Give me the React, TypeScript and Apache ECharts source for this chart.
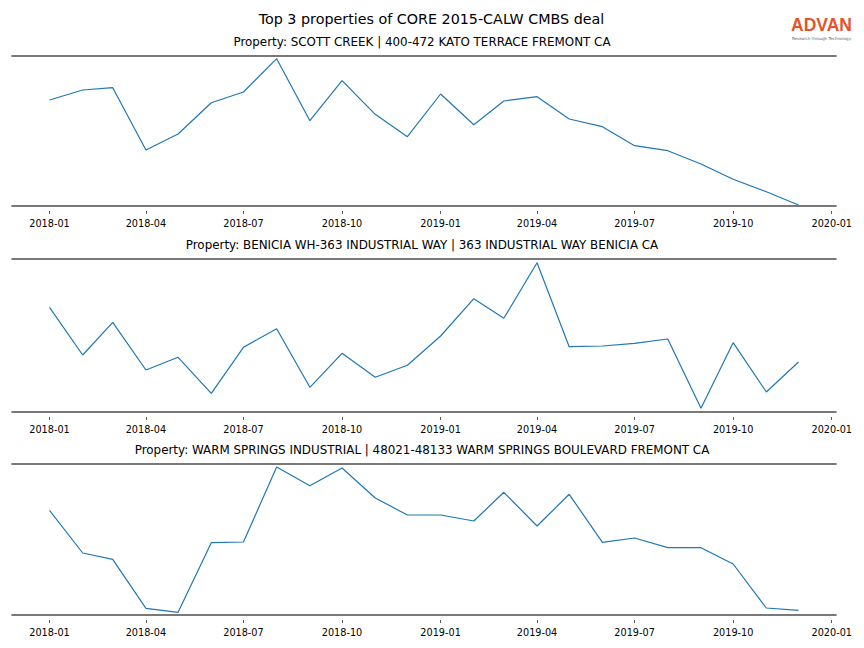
import React, { useEffect, useRef } from "react";
import * as echarts from "echarts";

const months = [
  "2018-01", "2018-02", "2018-03", "2018-04", "2018-05", "2018-06",
  "2018-07", "2018-08", "2018-09", "2018-10", "2018-11", "2018-12",
  "2019-01", "2019-02", "2019-03", "2019-04", "2019-05", "2019-06",
  "2019-07", "2019-08", "2019-09", "2019-10", "2019-11", "2019-12",
];

const tickLabels = [
  "2018-01", "2018-04", "2018-07", "2018-10",
  "2019-01", "2019-04", "2019-07", "2019-10", "2020-01",
];

const mainTitle = "Top 3 properties of CORE 2015-CALW CMBS deal";
const propertyTitles = [
  "Property: SCOTT CREEK | 400-472 KATO TERRACE FREMONT CA",
  "Property: BENICIA WH-363 INDUSTRIAL WAY | 363 INDUSTRIAL WAY BENICIA CA",
  "Property: WARM SPRINGS INDUSTRIAL | 48021-48133 WARM SPRINGS BOULEVARD FREMONT CA",
];

const scottCreek = [
  106, 116, 118.3, 56, 72, 103.3, 114, 147.3, 85.3, 125.3, 91.7, 69.3,
  112, 81.3, 105, 109.3, 87, 79.3, 60.3, 55.3, 42, 26.7, 14.3, 1,
];
const benicia = [
  104.7, 57, 89.7, 42, 54.7, 18.7, 64.7, 83.3, 24.7, 58.7, 34.7, 46.7,
  76, 113.3, 93.7, 149.3, 65.3, 66, 68.7, 73, 3.7, 69.3, 20, 50,
];
const warmSprings = [
  104.7, 62, 55.7, 6.7, 2.7, 72.3, 73, 148, 129.3, 147, 117, 100,
  100, 94, 122.7, 89, 120.7, 72.7, 77, 67.3, 67.3, 51, 7, 4.7,
];
const seriesList = [scottCreek, benicia, warmSprings];
const yMaxList = [150, 153, 151];

const toTs = (s: string) => Date.UTC(+s.slice(0, 4), +s.slice(5, 7) - 1, 1);

export default function App() {
  const ref = useRef<HTMLDivElement>(null);
  useEffect(() => {
    if (!ref.current) return;
    const chart = echarts.init(ref.current, null, { renderer: "svg" });
    const DAY = 86400000;
    const monthTs = months.map(toTs);
    const tickTs = tickLabels.map(toTs);
    const xMin = monthTs[0] - 35 * DAY;
    const xMax = monthTs[monthTs.length - 1] + 35 * DAY;
    const font = "DejaVu Sans";
    const gridTops = [56, 259, 464];
    const gridHeights = [150, 153, 151];
    const spine = "#4d4d4d";

    const grids: any[] = [];
    const xAxes: any[] = [];
    const yAxes: any[] = [];
    const series: any[] = [];
    const titles: any[] = [
      {
        text: mainTitle,
        left: 431.5,
        top: 12,
        padding: 0,
        textAlign: "center",
        textStyle: { fontFamily: font, fontSize: 14.3, fontWeight: "normal", color: "#000" },
      },
    ];

    seriesList.forEach((vals, i) => {
      grids.push({ left: 12, right: 28, top: gridTops[i], height: gridHeights[i] });
      titles.push({
        text: propertyTitles[i],
        left: 422,
        top: gridTops[i] - 20,
        padding: 0,
        textAlign: "center",
        textStyle: { fontFamily: font, fontSize: 11.9, fontWeight: "normal", color: "#000" },
      });
      const base = xAxes.length;
      xAxes.push({
        type: "value",
        gridIndex: i,
        min: xMin,
        max: xMax,
        position: "bottom",
        axisLine: { show: true, lineStyle: { color: spine, width: 1.6 } },
        axisTick: { show: false },
        splitLine: { show: false },
        axisLabel: {
          show: true,
          customValues: tickTs,
          margin: 12,
          fontFamily: font,
          fontSize: 9.7,
          color: "#000",
          hideOverlap: false,
          showMinLabel: true,
          showMaxLabel: true,
          formatter: (v: number) => {
            const k = tickTs.indexOf(v);
            return k >= 0 ? tickLabels[k] : "";
          },
        },
      });
      xAxes.push({
        type: "value",
        gridIndex: i,
        min: xMin,
        max: xMax,
        position: "bottom",
        offset: 5,
        axisLine: { show: false },
        axisTick: { show: true, customValues: tickTs, length: 3, lineStyle: { color: "#333", width: 0.8 } },
        axisLabel: { show: false },
        splitLine: { show: false },
      });
      xAxes.push({
        type: "value",
        gridIndex: i,
        min: xMin,
        max: xMax,
        position: "top",
        axisLine: { show: true, lineStyle: { color: spine, width: 1.6 } },
        axisTick: { show: false },
        axisLabel: { show: false },
        splitLine: { show: false },
      });
      yAxes.push({
        type: "value",
        gridIndex: i,
        min: 0,
        max: yMaxList[i],
        show: false,
        splitLine: { show: false },
      });
      series.push({
        type: "line",
        xAxisIndex: base,
        yAxisIndex: i,
        data: vals.map((v, j) => [monthTs[j], v]),
        showSymbol: false,
        lineStyle: { color: "#1f77b4", width: 1.2 },
        itemStyle: { color: "#1f77b4" },
      });
    });

    chart.setOption({
      animation: false,
      backgroundColor: "#fff",
      title: titles,
      grid: grids,
      xAxis: xAxes,
      yAxis: yAxes,
      series,
      graphic: [
        {
          type: "text",
          left: 791,
          top: 16,
          style: { text: "ADVAN", fontFamily: "Liberation Sans", fontSize: 17.5, fill: "#e5532b", fontWeight: "bold" },
        },
        {
          type: "text",
          left: 792,
          top: 36,
          style: { text: "Research through Technology", fontFamily: font, fontSize: 4, fill: "#666" },
        },
      ],
    });
    return () => chart.dispose();
  }, []);
  return (
    <div
      ref={ref}
      style={{ position: "absolute", left: 0, top: 0, width: 864, height: 648 }}
    />
  );
}
